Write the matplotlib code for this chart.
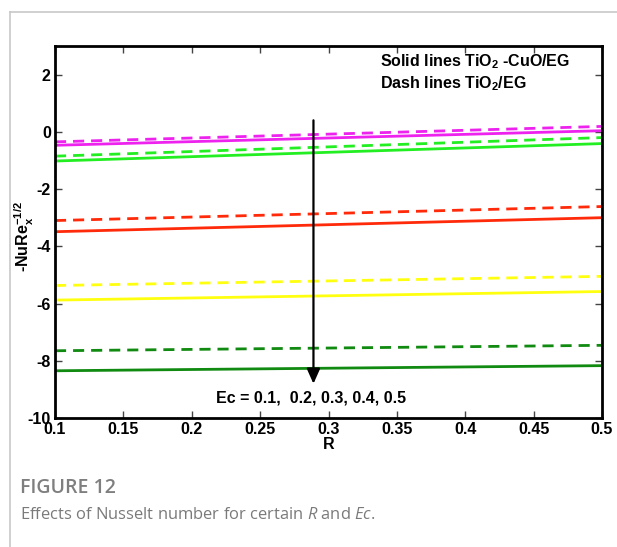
import matplotlib
matplotlib.use("Agg")
import matplotlib.pyplot as plt
from matplotlib.lines import Line2D

R = [0.1, 0.5]
ec_values = [0.1, 0.2, 0.3, 0.4, 0.5]
colors = ["#ee22ee", "#22ee22", "#ff2a0a", "#ffff10", "#108a10"]
solid_hybrid = [[-0.47, 0.04], [-1.02, -0.41], [-3.49, -3.00], [-5.88, -5.58], [-8.35, -8.17]]
dash_mono = [[-0.35, 0.19], [-0.85, -0.20], [-3.10, -2.61], [-5.37, -5.05], [-7.65, -7.46]]
xticks = [0.1, 0.15, 0.2, 0.25, 0.3, 0.35, 0.4, 0.45, 0.5]
xticklabels = ["0.1", "0.15", "0.2", "0.25", "0.3", "0.35", "0.4", "0.45", "0.5"]
yticks = [-10, -8, -6, -4, -2, 0, 2]
yticklabels = ["-10", "-8", "-6", "-4", "-2", "0", "2"]

plt.rcParams['font.family'] = ['Liberation Sans', 'DejaVu Sans']
plt.rcParams['axes.unicode_minus'] = False
plt.rcParams['mathtext.fontset'] = 'custom'
plt.rcParams['mathtext.rm'] = 'Liberation Sans'
plt.rcParams['mathtext.bf'] = 'Liberation Sans:bold'
plt.rcParams['mathtext.it'] = 'Open Sans:italic'

fig = plt.figure(figsize=(6.17, 5.47), dpi=100)

# outer light frame
fig.add_artist(Line2D([10/617, 1.0], [1-12/547, 1-12/547], color="#c8c8c8", lw=1.2, transform=fig.transFigure))
fig.add_artist(Line2D([10/617, 10/617], [0.0, 1-12/547], color="#c8c8c8", lw=1.2, transform=fig.transFigure))

ax = fig.add_axes([55/617, 1-418/547, (602-55)/617, (418-46)/547])
for c, s, d in zip(colors, solid_hybrid, dash_mono):
    ax.plot(R, d, color=c, lw=2, linestyle=(0, (4, 2.5)))
    ax.plot(R, s, color=c, lw=2, linestyle='-')

ax.set_xlim(0.1, 0.5)
ax.set_ylim(-10, 3)
ax.set_xticks(xticks)
ax.set_xticklabels(xticklabels)
ax.set_yticks(yticks)
ax.set_yticklabels(yticklabels)
ax.tick_params(direction='in', top=True, right=True, length=5, width=1, color='#444444',
               labelsize=11.5, pad=3)
for lab in ax.get_xticklabels() + ax.get_yticklabels():
    lab.set_fontweight('bold')
for sp in ax.spines.values():
    sp.set_linewidth(2)
    sp.set_color('black')

ax.set_xlabel("R", fontsize=11.5, fontweight='bold', labelpad=0)
fig.text(24/617, 1-237/547, r"-NuRe$_{\mathbf{x}}^{\mathbf{-1/2}}$", fontsize=11.5, fontweight='bold',
         rotation=90, ha='center', va='center')

ax.text(0.338, 2.45, r"Solid lines TiO$_{\mathbf{2}}$ -CuO/EG", fontsize=11.5, fontweight='bold', va='center')
ax.text(0.338, 1.7, r"Dash lines TiO$_{\mathbf{2}}$/EG", fontsize=11.5, fontweight='bold', va='center')

ax.annotate("", xy=(0.289, -8.9), xytext=(0.289, 0.5),
            arrowprops=dict(arrowstyle='-|>,head_width=0.4,head_length=0.9', color='black', lw=1.6))
ax.text(0.2875, -9.3, "Ec = 0.1,  0.2, 0.3, 0.4, 0.5", fontsize=11.5, fontweight='bold', ha='center', va='center')

fig.text(20/617, 1-488/547, "FIGURE 12", fontsize=14, color='#7f7f7f', fontweight='semibold',
         family=['Open Sans', 'DejaVu Sans'], va='center')
fig.text(20/617, 1-515/547, "Effects of Nusselt number for certain $\\mathit{R}$ and $\\mathit{Ec}$.",
         fontsize=11.9, color='#7a7a7a', family=['Open Sans', 'DejaVu Sans'], va='center')

fig.savefig("out.png", dpi=100)
